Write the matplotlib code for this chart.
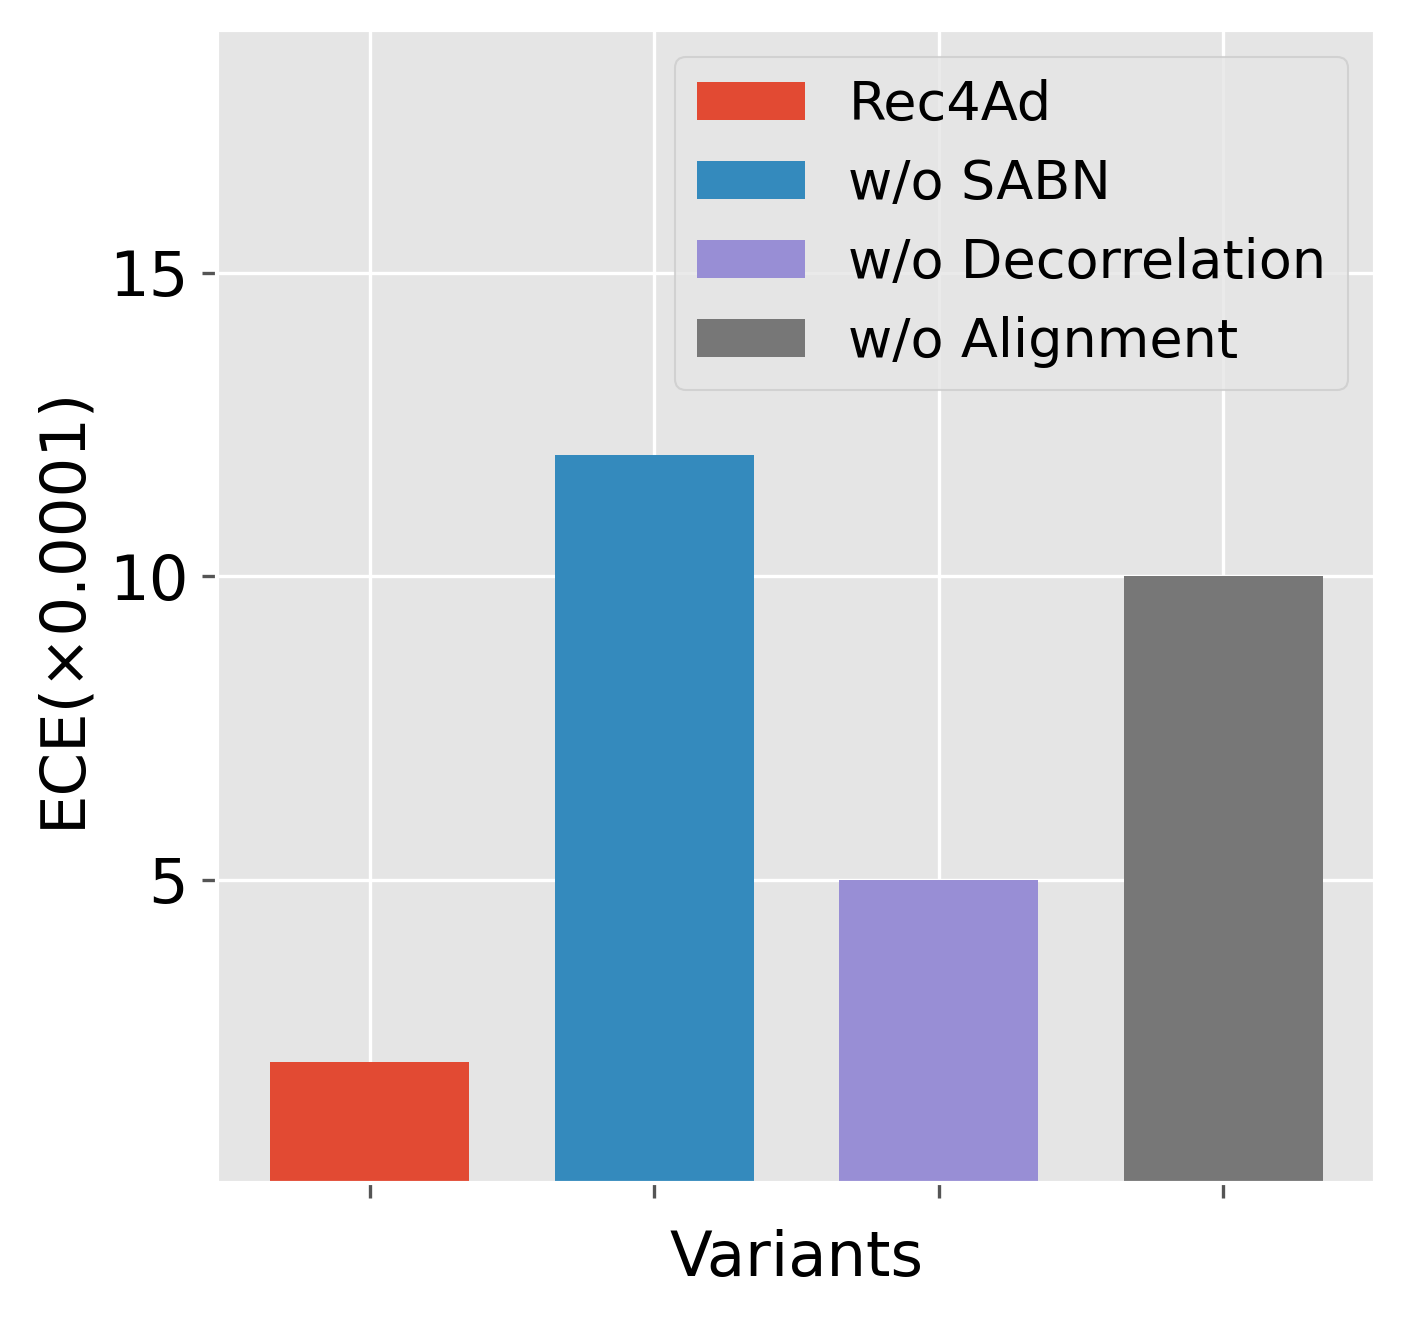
import matplotlib
matplotlib.use("Agg")
import matplotlib.pyplot as plt

variants = ["Rec4Ad", "w/o SABN", "w/o Decorrelation", "w/o Alignment"]
ece = [2.0, 12.0, 5.0, 10.0]
colors = ["#E24A33", "#348ABD", "#988ED5", "#777777"]

plt.style.use("ggplot")
fig, ax = plt.subplots(figsize=(4.69, 4.4), dpi=300)

for i, (name, val) in enumerate(zip(variants, ece)):
    ax.bar(i, val, width=0.7, color=colors[i], label=name)

ax.set_xticks(range(len(variants)))
ax.set_xticklabels([])
ax.set_yticks([5, 10, 15])
ax.set_ylim(0, 19)
ax.tick_params(axis="both", labelsize=15, colors="#555555", labelcolor="black")
ax.set_xlabel("Variants", fontsize=15, color="black")
ax.set_ylabel("ECE(×0.0001)", fontsize=15, color="black")

ax.legend(loc="upper right", fontsize=13)

fig.subplots_adjust(left=0.1545, right=0.9775, top=0.9773, bottom=0.1035)
fig.savefig("out.png", dpi=300)
